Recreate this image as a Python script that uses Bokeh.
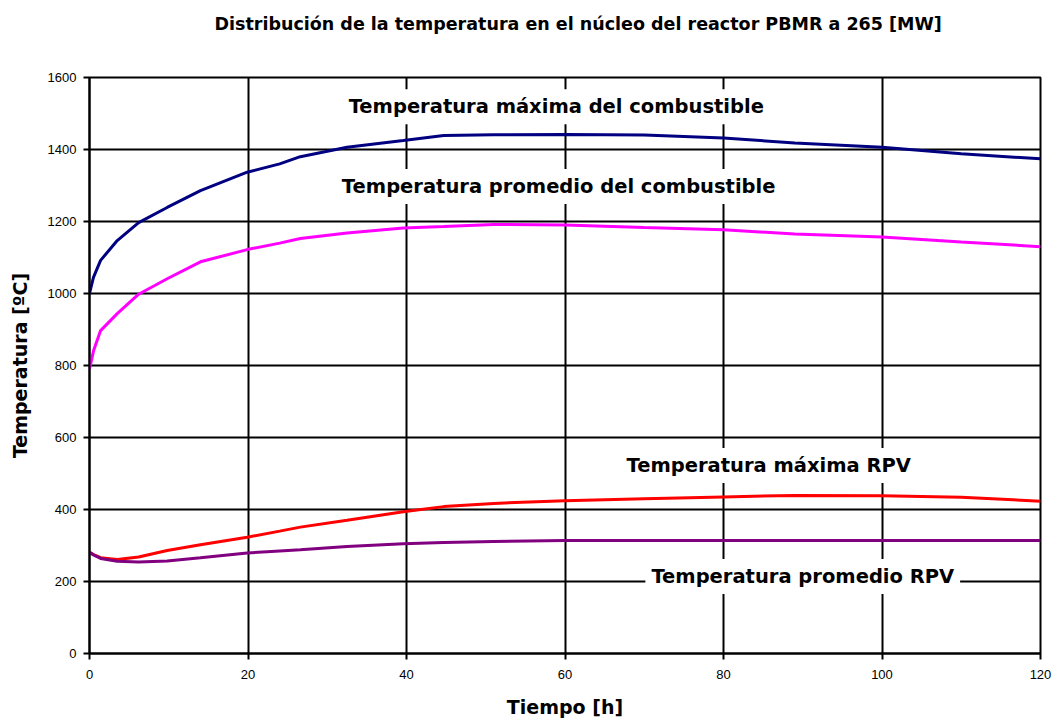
from bokeh.plotting import figure
from bokeh.models import Label, Range1d, FixedTicker
from bokeh.embed import file_html
from bokeh.resources import INLINE

# --- data ---
tiempo = [0, 0.5, 1.4, 3.5, 6.2, 9.8, 14, 19.9, 24, 26.6, 32.5, 39.6, 44.7, 51,
          60, 70, 80, 89, 100, 110, 120]
t_max_comb = [1000, 1045, 1092, 1147, 1197, 1239, 1286, 1337, 1360, 1380, 1406, 1425,
              1439, 1441, 1442, 1440, 1432, 1418, 1406, 1388, 1374]
t_prom_comb = [790, 840, 897, 944, 998, 1041, 1088, 1122, 1140, 1153, 1168, 1182,
               1186, 1192, 1190, 1183, 1177, 1165, 1157, 1143, 1130]
t_max_rpv = [281, 275, 266, 261, 268, 286, 302, 323, 340, 351, 370, 394,
             408, 417, 424, 430, 435, 439, 438, 434, 423]
t_prom_rpv = [281, 274, 264, 256, 254, 257, 266, 279, 285, 288, 297, 305,
              308, 311, 314, 314, 314, 314, 314, 314, 314]

x_ticks = [0, 20, 40, 60, 80, 100, 120]
y_ticks = [0, 200, 400, 600, 800, 1000, 1200, 1400, 1600]

title_text = "Distribución de la temperatura en el núcleo del reactor PBMR a 265 [MW]"
series_labels = ["Temperatura máxima del combustible",
                 "Temperatura promedio del combustible",
                 "Temperatura máxima RPV",
                 "Temperatura promedio RPV"]
series_colors = ["#000080", "#FF00FF", "#FF0000", "#800080"]
label_pos = [(58.9, 1519), (59.2, 1297), (85.7, 522), (90.0, 214)]

FONT = "DejaVu Sans"

p = figure(width=1053, height=722, output_backend="svg", toolbar_location=None,
           x_range=Range1d(0, 120), y_range=Range1d(0, 1600),
           min_border_left=89, min_border_right=13, min_border_top=77,
           min_border_bottom=69)
p.background_fill_color = "white"
p.border_fill_color = "white"
p.outline_line_color = "black"
p.outline_line_width = 2

# blank trailing lines lift the single visible title line towards the top edge
p.title.text = title_text + "\n\n"
p.title.text_font = FONT
p.title.text_font_style = "bold"
p.title.text_font_size = "17.5px"
p.title.text_color = "black"
p.title.align = "left"
p.title.offset = 125
p.title.vertical_align = "top"
p.title.standoff = 4

for ax in (p.xaxis[0], p.yaxis[0]):
    ax.axis_line_color = "black"
    ax.axis_line_width = 2
    ax.major_tick_line_color = "black"
    ax.major_tick_line_width = 2
    ax.major_tick_out = 6
    ax.major_tick_in = 0
    ax.minor_tick_line_color = None
    ax.major_label_text_font = "Liberation Sans"
    ax.major_label_text_font_size = "13px"
    ax.major_label_text_color = "black"
    ax.axis_label_text_font = FONT
    ax.axis_label_text_font_style = "bold"
    ax.axis_label_text_font_size = "19px"
    ax.axis_label_text_color = "black"

p.xaxis.ticker = FixedTicker(ticks=x_ticks)
p.yaxis.ticker = FixedTicker(ticks=y_ticks)
p.xaxis.axis_label = "Tiempo [h]"
p.yaxis.axis_label = "Temperatura [ºC]"
p.xaxis.major_label_standoff = 10
p.xaxis.axis_label_standoff = 14
p.yaxis.major_label_standoff = 7
p.yaxis.axis_label_standoff = 14

p.xgrid.ticker = FixedTicker(ticks=x_ticks)
p.ygrid.ticker = FixedTicker(ticks=y_ticks)
for g in (p.xgrid[0], p.ygrid[0]):
    g.grid_line_color = "black"
    g.grid_line_width = 2

series = [t_max_comb, t_prom_comb, t_max_rpv, t_prom_rpv]
for vals, col in zip(series, series_colors):
    p.line(tiempo, vals, line_color=col, line_width=3)

for txt, (lx, ly) in zip(series_labels, label_pos):
    p.add_layout(Label(x=lx, y=ly, text=txt, text_align="center",
                       text_baseline="middle", text_font=FONT,
                       text_font_style="bold", text_font_size="19.5px",
                       text_color="black", background_fill_color="white",
                       padding=6))

open("out.html", "w").write(file_html(p, INLINE))
